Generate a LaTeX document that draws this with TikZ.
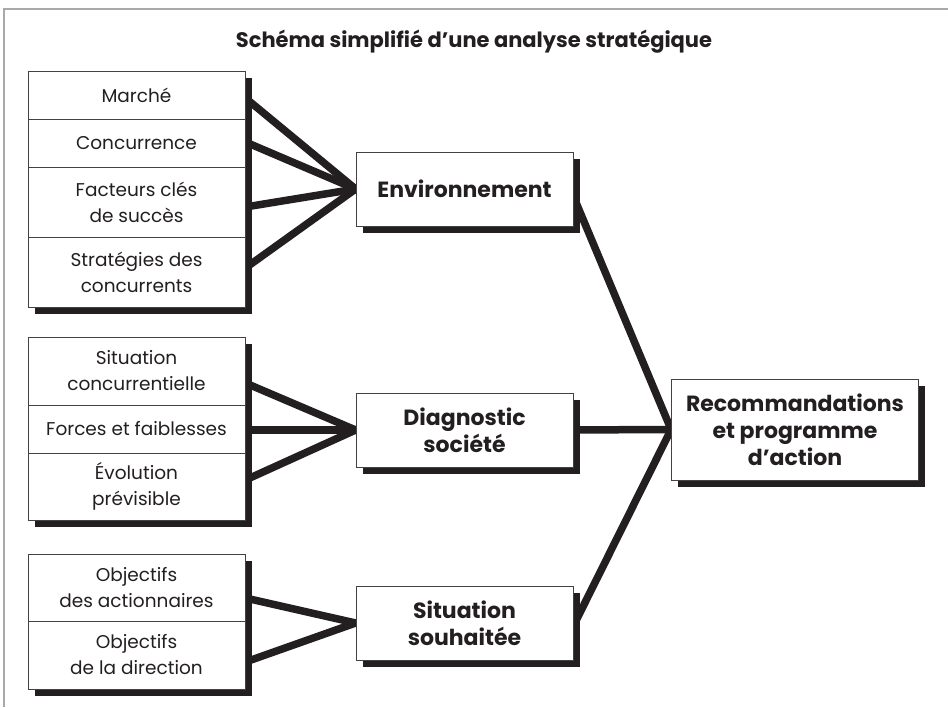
\documentclass[tikz,border=0pt]{standalone}
\usepackage{fontspec}
\setmainfont{Poppins}
\usetikzlibrary{calc,shadows}
\definecolor{ink}{HTML}{231F20}
\definecolor{rulegray}{HTML}{A7A9AC}
\pgfdeclarelayer{background}
\pgfsetlayers{background,main}

\begin{document}
\begin{tikzpicture}[x=1pt,y=-1pt,
  every node/.style={text=ink, inner sep=0pt, align=center},
  panel/.style={draw=ink!85, line width=0.8pt, fill=white, minimum width=217pt,
     general shadow={fill=ink, shadow xshift=6.5pt, shadow yshift=-7pt}},
  cell/.style={draw=ink!85, line width=0.8pt, minimum width=217pt,
     font=\fontsize{18.5}{26}\selectfont},
  hub/.style={panel, minimum height=74pt, font=\bfseries\fontsize{22}{27}\selectfont},
  link/.style={draw=ink, line width=7.5pt}]
\useasboundingbox (0,0) rectangle (948,707);

% page rule
\draw[rulegray, line width=2pt] (3.5,707) -- (3.5,8.5) -- (948,8.5);

% title
\node[font=\bfseries\fontsize{21}{24}\selectfont] (title) at (474,42)
  {Schéma simplifié d’une analyse stratégique};

% environment factors
\node[panel, minimum height=236pt] (g1) at (136.5,189) {};
\node[cell, minimum height=48pt] (c11) at (136.5,95) {Marché};
\node[cell, minimum height=48pt] (c12) at (136.5,143) {Concurrence};
\node[cell, minimum height=70pt] (c13) at (136.5,202) {Facteurs clés\\de succès};
\node[cell, minimum height=70pt] (c14) at (136.5,272) {Stratégies des\\concurrents};

% company diagnosis factors
\node[panel, minimum height=183pt] (g2) at (136.5,428.5) {};
\node[cell, minimum height=68pt] (c21) at (136.5,371) {Situation\\concurrentielle};
\node[cell, minimum height=48pt] (c22) at (136.5,429) {Forces et faiblesses};
\node[cell, minimum height=67pt] (c23) at (136.5,486.5) {Évolution\\prévisible};

% target situation factors
\node[panel, minimum height=135pt] (g3) at (136.5,621.5) {};
\node[cell, minimum height=67pt] (c31) at (136.5,587.5) {Objectifs\\des actionnaires};
\node[cell, minimum height=68pt] (c32) at (136.5,655) {Objectifs\\de la direction};

% synthesis boxes
\node[hub] (env) at (464.5,189) {Environnement};
\node[hub] (diag) at (464.5,430) {Diagnostic\\société};
\node[hub] (sit) at (464.5,623) {Situation\\souhaitée};
\node[hub, minimum width=247pt, minimum height=101pt] (rec) at (795,429.5)
  {Recommandations\\et programme\\d’action};

% connector anchors
\coordinate (a11) at ([yshift=-3pt]c11.east);
\coordinate (a12) at ([yshift=1pt]c12.east);
\coordinate (a13) at ([yshift=-5pt]c13.east);
\coordinate (a14) at ([yshift=4pt]c14.east);
\coordinate (a21) at ([yshift=-12pt]c21.east);
\coordinate (a22) at ([yshift=-1pt]c22.east);
\coordinate (a23) at ([yshift=6.5pt]c23.east);
\coordinate (a31) at ([yshift=-10.5pt]c31.east);
\coordinate (a32) at ([yshift=-7pt]c32.east);
\coordinate (e1) at ([xshift=-11pt,yshift=19pt]env.east);
\coordinate (e2) at ([xshift=-10pt]diag.east);
\coordinate (e3) at ([xshift=-7pt,yshift=-17pt]sit.east);

\begin{pgfonlayer}{background}
  \foreach \s in {a11,a12,a13,a14}
    \draw[link] (\s) -- ($(env.west)!-14pt!(\s)$);
  \foreach \s in {a21,a22,a23}
    \draw[link] (\s) -- ($(diag.west)!-14pt!(\s)$);
  \foreach \s in {a31,a32}
    \draw[link] (\s) -- ($(sit.west)!-14pt!(\s)$);
  \foreach \s in {e1,e2,e3}
    \draw[link] (\s) -- ($(rec.west)!-14pt!(\s)$);
\end{pgfonlayer}
\end{tikzpicture}
\end{document}
